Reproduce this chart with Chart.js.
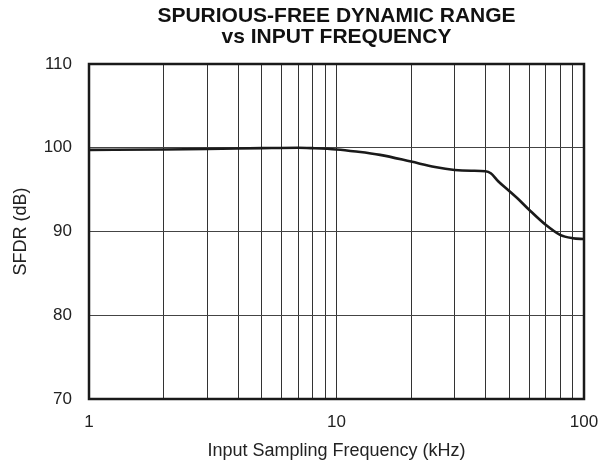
<!DOCTYPE html>
<html>
<head>
<meta charset="utf-8">
<script src="https://cdn.jsdelivr.net/npm/chart.js@4/dist/chart.umd.min.js"></script>
<style>
    html, body { margin: 0; padding: 0; background: #fff; }
    #wrap { width: 612px; height: 466px; }
</style>
</head>
<body>
<div id="wrap"><canvas id="sfdrChart" width="612" height="466"></canvas></div>
<script>
const titleLines = ["SPURIOUS-FREE DYNAMIC RANGE", "vs INPUT FREQUENCY"];
const freqKHz = [1, 2, 3, 5, 7, 8, 10, 12, 15, 20, 25, 30, 35, 40, 42, 45, 50, 55, 60, 70, 80, 90, 100];
const sfdrDb = [99.75, 99.8, 99.85, 99.95, 100.0, 99.95, 99.8, 99.55, 99.15, 98.35, 97.7, 97.35, 97.25, 97.2, 96.95, 96.0, 94.8, 93.7, 92.6, 90.8, 89.6, 89.2, 89.1];
const xGridValues = [1, 2, 3, 4, 5, 6, 7, 8, 9, 10, 20, 30, 40, 50, 60, 70, 80, 90, 100];
const xTickLabels = [1, 10, 100];
const yTickValues = [70, 80, 90, 100, 110];

const FONT = "'Liberation Sans', Arial, Helvetica, sans-serif";

// title centred on the plot area + heavy frame round it
const framePlugin = {
    id: "frame",
    afterDraw(chart) {
        const { ctx, chartArea: a } = chart;
        ctx.save();
        ctx.strokeStyle = "#1a1a1a";
        ctx.lineWidth = 2.5;
        ctx.strokeRect(a.left, a.top, a.right - a.left, a.bottom - a.top);
        ctx.fillStyle = "#111";
        ctx.font = "bold 21px " + FONT;
        ctx.textAlign = "center";
        ctx.textBaseline = "middle";
        const cx = (a.left + a.right) / 2;
        ctx.fillText(titleLines[0], cx, 16);
        ctx.fillText(titleLines[1], cx, 37);
        ctx.restore();
    },
};

const ctx = document.getElementById("sfdrChart").getContext("2d");
new Chart(ctx, {
    type: "line",
    data: {
        datasets: [
            {
                data: freqKHz.map((f, i) => ({ x: f, y: sfdrDb[i] })),
                borderColor: "#1a1a1a",
                borderWidth: 2.6,
                pointRadius: 0,
                tension: 0.4,
                cubicInterpolationMode: "monotone",
                fill: false,
            },
        ],
    },
    options: {
        responsive: false,
        animation: false,
        layout: { padding: { top: 64, right: 28, bottom: 0, left: 0 } },
        plugins: {
            legend: { display: false },
            title: { display: false },
            tooltip: { enabled: false },
        },
        scales: {
            x: {
                type: "logarithmic",
                min: 1,
                max: 100,
                afterBuildTicks: (scale) => {
                    scale.ticks = xGridValues.map((v) => ({ value: v }));
                },
                afterFit: (scale) => {
                    scale.height = 67;
                },
                ticks: {
                    autoSkip: false,
                    maxRotation: 0,
                    padding: 13,
                    color: "#222",
                    font: { family: FONT, size: 17 },
                    callback: (v) => (xTickLabels.includes(v) ? String(v) : ""),
                },
                grid: { color: "#333", lineWidth: 1, drawTicks: false },
                border: { display: false },
                title: {
                    display: true,
                    text: "Input Sampling Frequency (kHz)",
                    color: "#222",
                    font: { family: FONT, size: 18 },
                    padding: { top: 0, bottom: 4 },
                },
            },
            y: {
                min: 70,
                max: 110,
                afterBuildTicks: (scale) => {
                    scale.ticks = yTickValues.map((v) => ({ value: v }));
                },
                afterFit: (scale) => {
                    scale.width = 89;
                },
                ticks: {
                    padding: 17,
                    color: "#222",
                    font: { family: FONT, size: 17 },
                },
                grid: { color: "#444", lineWidth: 1, drawTicks: false },
                border: { display: false },
                title: {
                    display: true,
                    text: "SFDR (dB)",
                    color: "#222",
                    font: { family: FONT, size: 18 },
                    padding: { top: 10, bottom: 0 },
                },
            },
        },
    },
    plugins: [framePlugin],
});
</script>
</body>
</html>
